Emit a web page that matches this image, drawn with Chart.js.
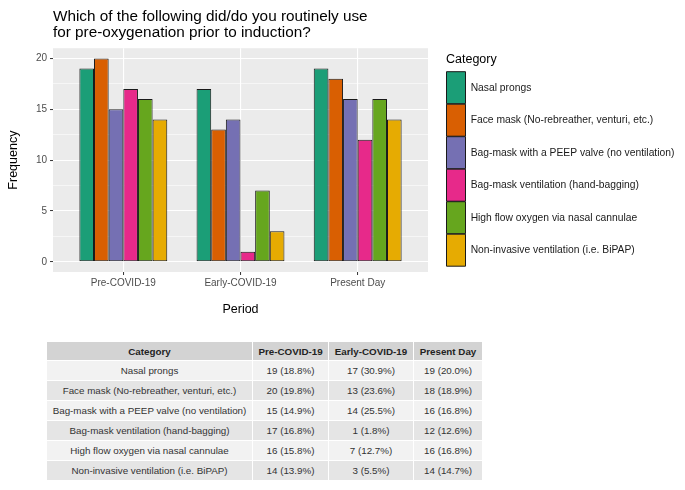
<!DOCTYPE html>
<html>
<head>
<meta charset="utf-8">
<script src="https://cdn.jsdelivr.net/npm/chart.js@4/dist/chart.umd.min.js"></script>
<style>
  body { margin: 0; background: #fff; }
  #wrap { position: relative; width: 685px; height: 490px; }
  #chartBox { position: absolute; left: 0; top: 0; width: 685px; height: 325px; }
  #counts {
    position: absolute; left: 46px; top: 341px; width: 437px;
    border-collapse: collapse; table-layout: fixed;
    font-family: "Liberation Sans", Arial, sans-serif; font-size: 9.8px; color: #333;
  }
  #counts th, #counts td {
    border: 1.5px solid #fff; text-align: center; padding: 0; white-space: nowrap;
  }
  #counts th { background: #d3d3d3; height: 18px; font-weight: bold; color: #222; }
  #counts td { height: 19px; }
  #counts tr:nth-child(even) td { background: #f2f2f2; }
  #counts tr:nth-child(odd) td { background: #e5e5e5; }
</style>
</head>
<body>
<div id="wrap">
  <div id="chartBox"><canvas id="graph"></canvas></div>
  <table id="counts"></table>
</div>
<script>
const periods = ["Pre-COVID-19", "Early-COVID-19", "Present Day"];

const categories = [
  "Nasal prongs",
  "Face mask (No-rebreather, venturi, etc.)",
  "Bag-mask with a PEEP valve (no ventilation)",
  "Bag-mask ventilation (hand-bagging)",
  "High flow oxygen via nasal cannulae",
  "Non-invasive ventilation (i.e. BiPAP)",
];

const nasalProngs = [19, 17, 19];
const faceMask = [20, 13, 18];
const bagMaskPeep = [15, 14, 16];
const bagMaskVentilation = [17, 1, 12];
const highFlowOxygen = [16, 7, 16];
const nonInvasive = [14, 3, 14];

const yTicks = [0, 2.5, 5, 7.5, 10, 12.5, 15, 17.5, 20];

const colors = ["#1B9E77", "#D95F02", "#7570B3", "#E7298A", "#66A61E", "#E6AB02"];

const series = [nasalProngs, faceMask, bagMaskPeep, bagMaskVentilation, highFlowOxygen, nonInvasive];

const font = '"Liberation Sans", Arial, sans-serif';

// grey panel behind the plot, ggplot style
const panelBg = {
  id: "panelBg",
  beforeDraw(chart) {
    const { ctx, chartArea: a } = chart;
    ctx.save();
    ctx.fillStyle = "#ebebeb";
    ctx.fillRect(a.left, a.top, a.right - a.left, a.bottom - a.top);
    ctx.restore();
  },
};

// left-align the title with the panel instead of the canvas edge
const titleToPanel = {
  id: "titleToPanel",
  afterLayout(chart) {
    if (chart.titleBlock) chart.titleBlock.left = chart.chartArea.left;
  },
};

const isMajor = (v) => v % 5 === 0;

new Chart(document.getElementById("graph"), {
  type: "bar",
  data: {
    datasets: categories.map((name, k) => ({
      label: name,
      data: series[k].map((v, i) => ({ x: i + 1, y: v })),
      backgroundColor: colors[k],
      borderColor: "#1a1a1a",
      borderWidth: 1,
      borderSkipped: false,
      categoryPercentage: 0.75,
      barPercentage: 1,
    })),
  },
  options: {
    responsive: true,
    maintainAspectRatio: false,
    animation: false,
    devicePixelRatio: 1,
    layout: { padding: { left: 0, right: 11, top: 0, bottom: 0 } },
    plugins: {
      title: {
        display: true,
        text: [
          "Which of the following did/do you routinely use",
          "for pre-oxygenation prior to induction?",
        ],
        align: "start",
        color: "#000",
        font: { family: font, size: 15.3, weight: "normal", lineHeight: 1.02 },
        padding: { top: 9.3, bottom: 7.7 },
      },
      legend: {
        position: "right",
        align: "start",
        fullSize: true,
        maxWidth: 228,
        title: {
          display: true,
          text: "Category",
          position: "start",
          color: "#000",
          font: { family: font, size: 12.5 },
          padding: { top: 53.5, bottom: 2.7 },
        },
        labels: {
          boxWidth: 19,
          boxHeight: 32,
          padding: 0.5,
          color: "#1a1a1a",
          font: { family: font, size: 10.3 },
        },
      },
      tooltip: { enabled: false },
    },
    scales: {
      x: {
        type: "linear",
        min: 0.4,
        max: 3.6,
        offset: false,
        afterBuildTicks: (axis) => {
          axis.ticks = periods.map((p, i) => ({ value: i + 1 }));
        },
        afterFit: (axis) => {
          axis.height = 53;
        },
        ticks: {
          autoSkip: false,
          maxRotation: 0,
          padding: 2,
          color: "#4d4d4d",
          font: { family: font, size: 10 },
          callback: (value) => periods[value - 1],
        },
        grid: {
          offset: false,
          color: "#ffffff",
          lineWidth: 1.1,
          tickLength: 3,
          tickColor: "#333333",
          tickWidth: 1,
        },
        border: { display: false },
        title: {
          display: true,
          text: "Period",
          color: "#000",
          font: { family: font, size: 12.5 },
          padding: { top: 0, bottom: 7.8 },
        },
      },
      y: {
        type: "linear",
        min: -1,
        max: 21,
        afterBuildTicks: (axis) => {
          axis.ticks = yTicks.map((v) => ({ value: v }));
        },
        afterFit: (axis) => {
          axis.width = 53;
        },
        ticks: {
          padding: 3,
          color: "#4d4d4d",
          font: { family: font, size: 10 },
          callback: (value) => (isMajor(value) ? value : ""),
        },
        grid: {
          color: "#ffffff",
          lineWidth: (c) => (c.tick && isMajor(c.tick.value) ? 1.1 : 0.55),
          tickLength: 3,
          tickColor: (c) => (c.tick && isMajor(c.tick.value) ? "#333333" : "rgba(0,0,0,0)"),
          tickWidth: 1,
        },
        border: { display: false },
        title: {
          display: true,
          text: "Frequency",
          color: "#000",
          font: { family: font, size: 12.5 },
          padding: { top: 5.8, bottom: 0 },
        },
      },
      // empty axis that only keeps a gap between the panel and the legend
      gap: {
        type: "linear",
        position: "right",
        display: true,
        grid: { display: false },
        ticks: { display: false },
        border: { display: false },
        afterFit: (axis) => {
          axis.width = 18;
        },
      },
    },
  },
  plugins: [panelBg, titleToPanel],
});

// summary table under the chart
const table = document.getElementById("counts");
const totals = periods.map((p, i) => series.reduce((s, arr) => s + arr[i], 0));
const widths = [206, 76, 85, 69];
let html = "<colgroup>" + widths.map((w) => `<col style="width:${w}px">`).join("") + "</colgroup>";
html += "<tr><th>Category</th>" + periods.map((p) => `<th>${p}</th>`).join("") + "</tr>";
categories.forEach((name, k) => {
  html += `<tr><td>${name}</td>`;
  series[k].forEach((v, i) => {
    html += `<td>${v} (${((v / totals[i]) * 100).toFixed(1)}%)</td>`;
  });
  html += "</tr>";
});
table.innerHTML = html;
</script>
</body>
</html>
